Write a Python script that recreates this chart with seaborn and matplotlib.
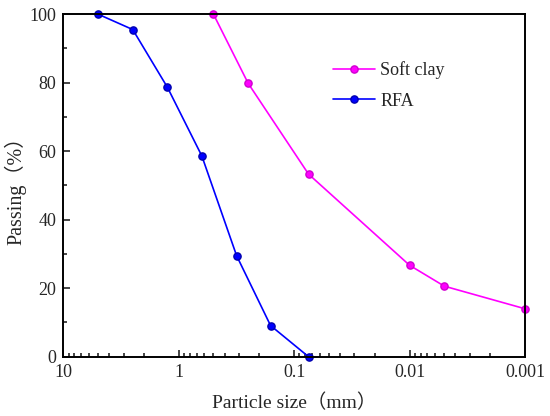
import numpy as np
import pandas as pd
import matplotlib
matplotlib.use("Agg")
import matplotlib.pyplot as plt
import matplotlib.ticker as mticker
import seaborn as sns

# data
rfa_size = [5, 2.5, 1.25, 0.63, 0.315, 0.16, 0.075]
rfa_pass = [100, 95.5, 78.6, 58.6, 29.5, 9.1, 0]
clay_size = [0.5, 0.25, 0.075, 0.01, 0.005, 0.001]
clay_pass = [100, 79.8, 53.3, 26.7, 20.6, 14.0]
x_ticks = [10, 1, 0.1, 0.01, 0.001]
x_tick_labels = ["10", "1", "0.1", "0.01", "0.001"]

sns.set_style("ticks")
plt.rcParams['font.family'] = ['Liberation Serif', 'Noto Sans CJK SC']
plt.rcParams['font.size'] = 12

clay = pd.DataFrame({"size": clay_size, "passing": clay_pass})
rfa = pd.DataFrame({"size": rfa_size, "passing": rfa_pass})

fig = plt.figure(figsize=(5.5, 4.16), dpi=100)
ax = fig.add_axes([0.115, 0.1425, 0.8395, 0.8235])

sns.lineplot(data=clay, x="size", y="passing", ax=ax, color="#ff00ff",
             marker="o", markersize=5.2, markeredgecolor="#d000d0",
             markeredgewidth=1.0, linewidth=1.2, label="Soft clay", clip_on=False)
sns.lineplot(data=rfa, x="size", y="passing", ax=ax, color="#0000ff",
             marker="o", markersize=5.2, markeredgecolor="#0000b0",
             markeredgewidth=1.0, linewidth=1.2, label="RFA", clip_on=False)

ax.set_xscale("log")
ax.set_xlim(10, 0.001)
ax.set_ylim(0, 100)
ax.xaxis.set_major_locator(mticker.FixedLocator(x_ticks))
ax.xaxis.set_major_formatter(mticker.FixedFormatter(x_tick_labels))
ax.xaxis.set_minor_locator(mticker.LogLocator(base=10, subs=np.arange(2, 10)))
ax.xaxis.set_minor_formatter(mticker.NullFormatter())
ax.yaxis.set_major_locator(mticker.MultipleLocator(20))
ax.yaxis.set_minor_locator(mticker.MultipleLocator(10))

ax.tick_params(which="both", direction="in", top=False, right=False,
               width=1.2, labelsize=13, pad=5)
ax.tick_params(which="major", length=5)
ax.tick_params(which="minor", length=3)
for s in ax.spines.values():
    s.set_linewidth(1.4)
    s.set_color("black")

ax.set_xlabel("Particle size（mm）", fontsize=14, labelpad=9)
ax.set_ylabel("Passing（%）", fontsize=14.5, labelpad=2)

ax.legend(loc="upper left", bbox_to_anchor=(0.55, 0.91), frameon=False,
          fontsize=13, handlelength=2.3, handletextpad=0.3, labelspacing=0.75)

fig.savefig("out.png", dpi=100)
